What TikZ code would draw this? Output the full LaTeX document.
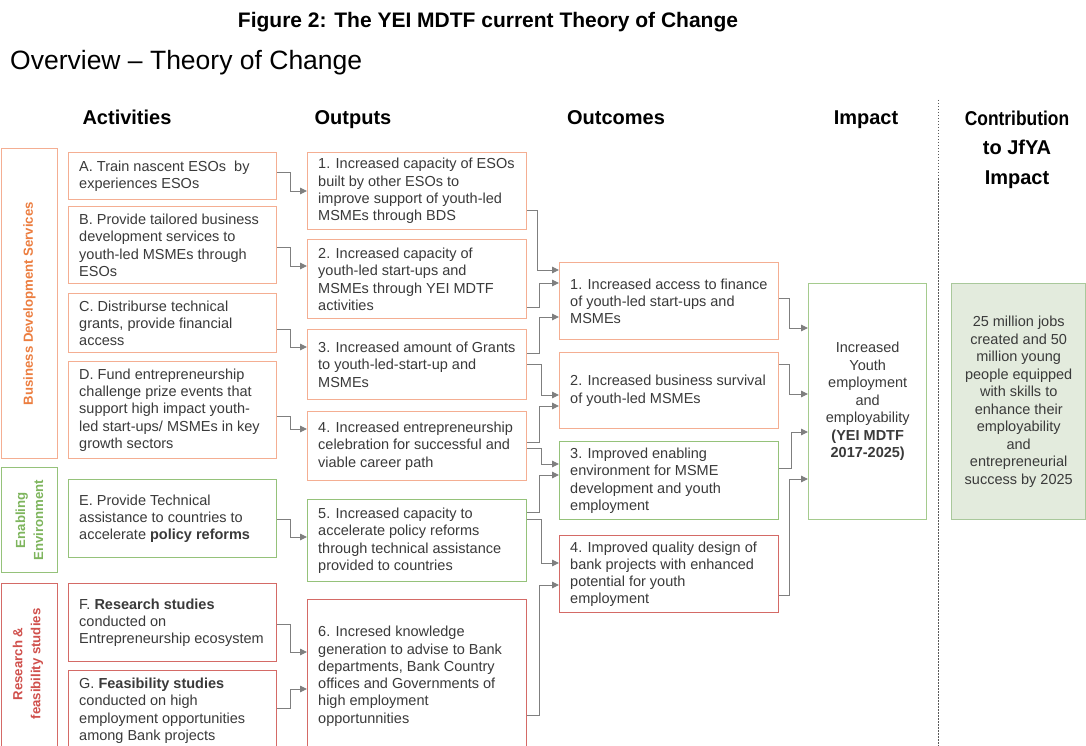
\documentclass[tikz,border=0pt]{standalone}
\usepackage{fontspec}
\setmainfont{Liberation Sans}
\usetikzlibrary{arrows.meta}

\definecolor{txtgray}{HTML}{3A3A3A}
\definecolor{linegray}{HTML}{7F7F7F}
\definecolor{orB}{HTML}{F4AE92}
\definecolor{orT}{HTML}{EC7D3F}
\definecolor{grB}{HTML}{95C27A}
\definecolor{grT}{HTML}{7EB55D}
\definecolor{rdB}{HTML}{D46A66}
\definecolor{rdT}{HTML}{D0504C}
\definecolor{jfyaFill}{HTML}{E3EBDD}
\definecolor{jfyaLine}{HTML}{A9C89B}

\tikzset{
  box/.style={draw=#1, line width=1.4pt, fill=white, rectangle, inner sep=0pt},
  bodytxt/.style={text=txtgray, font=\fontsize{14.5}{17.3}\selectfont, align=left, inner sep=0pt},
  sidetxt/.style={text=#1, font=\fontsize{13.2}{18}\selectfont\bfseries, align=center, rotate=90, inner sep=0pt},
  head/.style={font=\fontsize{20}{29.5}\selectfont\bfseries, align=center, inner sep=0pt, anchor=base},
  conn/.style={draw=linegray, line width=0.9pt, -{Triangle[length=7pt,width=6.5pt]}},
}

% box with left-aligned text: name, colour, x, y, width, height, text
\newcommand{\tbox}[7]{%
  \node[box=#2, minimum width=#5, minimum height=#6, anchor=north west] (#1) at (#3,#4) {};
  \node[bodytxt, anchor=west] (#1-t) at ([xshift=11pt]#1.west) {#7};
}
% elbow connector: from, to, start y, elbow x, end y
\newcommand{\elbow}[5]{%
  \draw[conn] (#1.east |- 0,#3) -- (#4,#3) |- (#2.west |- 0,#5);
}

\begin{document}
\begin{tikzpicture}[x=1pt, y=-1pt]
\useasboundingbox (0,0) rectangle (1086,746);
\fill[white] (0,0) rectangle (1086,746);
\clip (0,0) rectangle (1086,746);

% titles
\node[font=\fontsize{21}{25}\selectfont\bfseries, anchor=base, inner sep=0pt] (title) at (488,27.5) {Figure 2: The YEI MDTF current Theory of Change};
\node[font=\fontsize{26.5}{30}\selectfont, anchor=base west, inner sep=0pt] (overview) at (10,70) {Overview -- Theory of Change};

% column headers
\node[head] (hAct) at (127,125) {Activities};
\node[head] (hOut) at (353,125) {Outputs};
\node[head] (hOutc) at (616,125) {Outcomes};
\node[head] (hImp) at (866,125) {Impact};
\node[head, anchor=north] (hJfya) at (1017,110.4) {\scalebox{0.87}[1]{Contribution}\\to JfYA\\Impact};

% separator
\draw[draw=black!65, line width=1pt, dash pattern=on 1.5pt off 1.5pt] (938,100) -- (938,746);

% side group boxes
\node[box=orB, minimum width=56, minimum height=310, anchor=north west] (gBDS) at (0.7,148) {};
\node[sidetxt=orT] (gBDS-t) at (gBDS.center) {Business Development Services};
\node[box=grB, minimum width=56, minimum height=105, anchor=north west] (gEE) at (0.7,467) {};
\node[sidetxt=grT] (gEE-t) at (gEE.center) {Enabling\\Environment};
\node[box=rdB, minimum width=56, minimum height=180, anchor=north west] (gRF) at (0.7,583) {};
\node[sidetxt=rdT] (gRF-t) at (28,664) {Research \&\\feasibility studies};

% activities
\tbox{A}{orB}{68}{152}{208}{47}{A. Train nascent ESOs\ \ by\\experiences ESOs}
\tbox{B}{orB}{68}{206}{208}{77}{B. Provide tailored business\\development services to\\youth-led MSMEs through\\ESOs}
\tbox{C}{orB}{68}{293}{208}{59}{C. Distriburse technical\\grants, provide financial\\access}
\tbox{D}{orB}{68}{361}{208}{97}{D. Fund entrepreneurship\\challenge prize events that\\support high impact youth-\\led start-ups/ MSMEs in key\\growth sectors}
\tbox{E}{grB}{68}{479}{208}{78}{E. Provide Technical\\assistance to countries to\\accelerate \textbf{policy reforms}}
\tbox{F}{rdB}{68}{583}{208}{78}{F. \textbf{Research studies}\\conducted on\\Entrepreneurship ecosystem}
\tbox{G}{rdB}{68}{670}{208}{80}{G. \textbf{Feasibility studies}\\conducted on high\\employment opportunities\\among Bank projects}

% outputs
\tbox{O1}{orB}{307}{152}{219}{77}{1. Increased capacity of ESOs\\built by other ESOs to\\improve support of youth-led\\MSMEs through BDS}
\tbox{O2}{orB}{307}{239}{219}{79}{2. Increased capacity of\\youth-led start-ups and\\MSMEs through YEI MDTF\\activities}
\tbox{O3}{orB}{307}{329}{219}{70}{3. Increased amount of Grants\\to youth-led-start-up and\\MSMEs}
\tbox{O4}{orB}{307}{411}{219}{69}{4. Increased entrepreneurship\\celebration for successful and\\viable career path}
\tbox{O5}{grB}{307}{499}{219}{82}{5. Increased capacity to\\accelerate policy reforms\\through technical assistance\\provided to countries}
\tbox{O6}{rdB}{307}{599}{219}{153}{6. Incresed knowledge\\generation to advise to Bank\\departments, Bank Country\\offices and Governments of\\high employment\\opportunnities}

% outcomes
\tbox{R1}{orB}{559}{262}{219}{77}{1. Increased access to finance\\of youth-led start-ups and\\MSMEs}
\tbox{R2}{orB}{559}{352}{219}{76}{2. Increased business survival\\of youth-led MSMEs}
\tbox{R3}{grB}{559}{441}{219}{78}{3. Improved enabling\\environment for MSME\\development and youth\\employment}
\tbox{R4}{rdB}{559}{535}{219}{77}{4. Improved quality design of\\bank projects with enhanced\\potential for youth\\employment}

% impact
\node[box=grB!85, minimum width=118, minimum height=236, anchor=north west, text=txtgray,
      font=\fontsize{14.5}{17.5}\selectfont, align=center] (imp) at (808,283)
  {Increased\\Youth\\employment\\and\\employability\\\textbf{(YEI MDTF}\\\textbf{2017-2025)}};

% contribution to JfYA
\node[draw=jfyaLine, fill=jfyaFill, line width=1.4pt, inner sep=0pt, minimum width=134, minimum height=236,
      anchor=north west, text=txtgray, font=\fontsize{14.5}{17.5}\selectfont, align=center] (jfya) at (951,283)
  {25 million jobs\\created and 50\\million young\\people equipped\\with skills to\\enhance their\\employability\\and\\entrepreneurial\\success by 2025};

% activities -> outputs
\elbow{A}{O1}{172}{290}{191}
\elbow{B}{O2}{247}{290}{266}
\elbow{C}{O3}{329}{290}{347}
\elbow{D}{O4}{416}{290}{429}
\elbow{E}{O5}{519}{290}{537}
\elbow{F}{O6}{624}{290}{652}
\elbow{G}{O6}{708}{290}{689}

% outputs -> outcomes
\elbow{O1}{R1}{210}{537}{270}
\elbow{O2}{R1}{307}{539}{283}
\elbow{O3}{R1}{353}{539}{317}
\elbow{O3}{R2}{364}{541}{395}
\elbow{O4}{R2}{442}{539}{406}
\elbow{O4}{R3}{448}{541}{464}
\elbow{O5}{R3}{512}{539}{475}
\elbow{O5}{R4}{519}{541}{563}
\elbow{O6}{R4}{715}{539}{585}

% outcomes -> impact
\elbow{R1}{imp}{298}{789}{328}
\elbow{R2}{imp}{364}{789}{394}
\elbow{R3}{imp}{468}{791}{432}
\elbow{R4}{imp}{595}{789}{479}
\end{tikzpicture}
\end{document}
